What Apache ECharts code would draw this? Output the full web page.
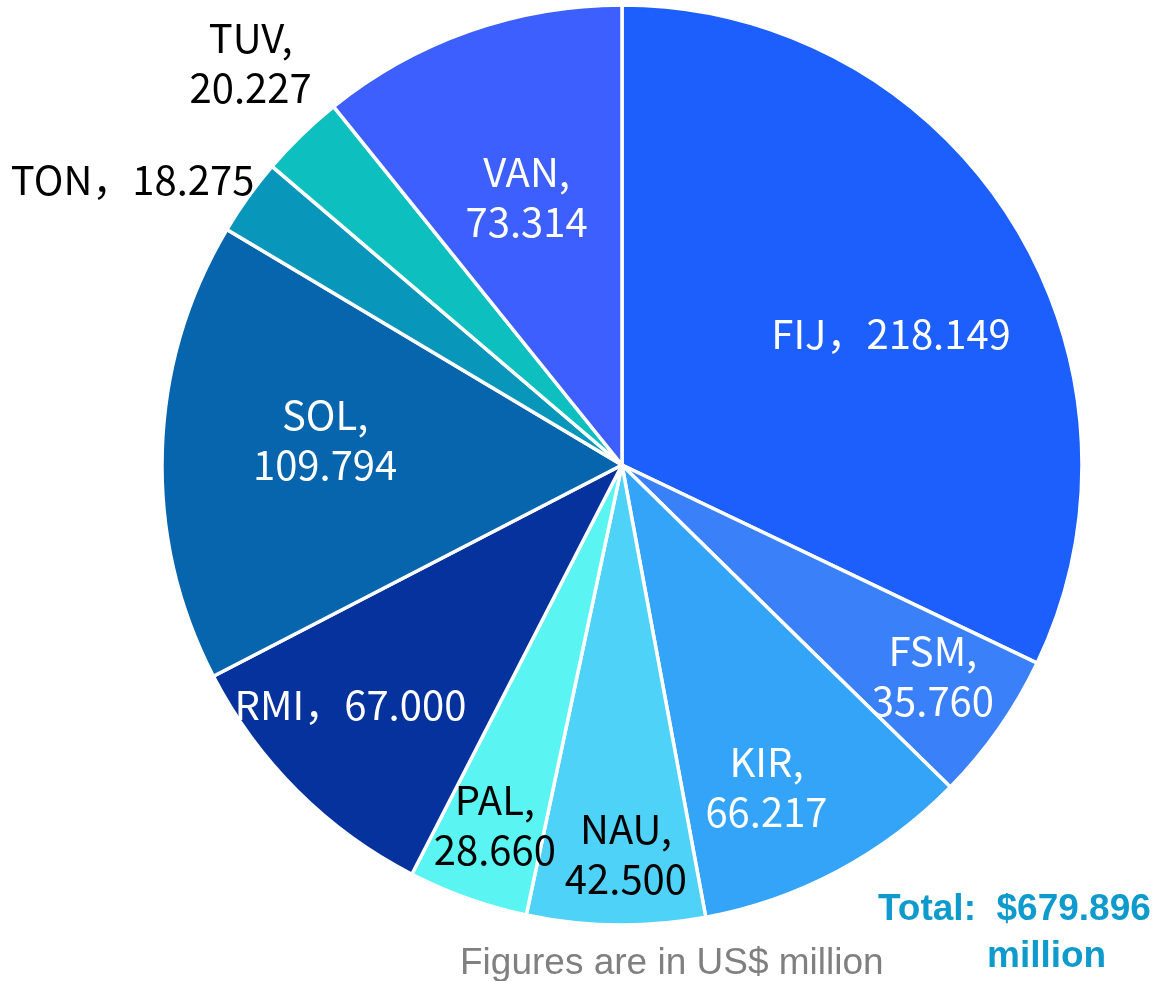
<!DOCTYPE html>
<html>
<head>
<meta charset="utf-8">
<script src="https://cdn.jsdelivr.net/npm/echarts@6/dist/echarts.min.js"></script>
<style>
html,body{margin:0;padding:0;background:#fff;}
#chart{width:1159px;height:981px;}
</style>
</head>
<body>
<div id="chart"></div>
<script>
// Data
const categories = ['FIJ', 'FSM', 'KIR', 'NAU', 'PAL', 'RMI', 'SOL', 'TON', 'TUV', 'VAN'];
const values = [218.149, 35.760, 66.217, 42.500, 28.660, 67.000, 109.794, 18.275, 20.227, 73.314];
const totalText = 'Total:  $679.896';
const totalText2 = 'million';
const noteText = 'Figures are in US$ million';

// Styles
const colors = ['#1C5FFD', '#3A80F9', '#33A4F8', '#4ED2F7', '#5AF5F3', '#06329E', '#0665AC', '#0996BB', '#0DBFBE', '#3D5FFE'];
const labelColors = ['#fff', '#fff', '#fff', '#000', '#000', '#fff', '#fff', '#000', '#000', '#fff'];
const singleLine = [true, false, false, false, false, true, false, true, false, false];
const labelShift = [[72, -7], [120, 77], [35, 116], [7, 156], [-49, 140], [-107, 75], [-64, -18], [-300, -149], [-209, -235], [-18, -48]];

const chart = echarts.init(document.getElementById('chart'), null, {renderer: 'canvas'});
chart.setOption({
  animation: false,
  backgroundColor: '#fff',
  series: [{
    type: 'pie',
    center: [622, 465],
    radius: [0, 460],
    startAngle: 90,
    clockwise: true,
    avoidLabelOverlap: false,
    emphasis: {disabled: true},
    itemStyle: {borderColor: '#fff', borderWidth: 3.5},
    label: {
      show: true,
      position: 'inside',
      fontFamily: '"Noto Sans CJK SC", "Noto Sans", sans-serif',
      fontSize: 40,
      lineHeight: 50,
      align: 'center'
    },
    labelLine: {show: false},
    labelLayout: function (p) {
      const s = labelShift[p.dataIndex];
      return {dx: s[0], dy: s[1]};
    },
    data: categories.map((c, i) => ({
      name: c,
      value: values[i],
      itemStyle: {color: colors[i]},
      label: {
        color: labelColors[i],
        formatter: singleLine[i] ? (c + '，' + values[i].toFixed(3)) : (c + ',\n' + values[i].toFixed(3))
      }
    }))
  }],
  graphic: [
    {type: 'text', left: 878, top: 891, style: {text: totalText, fill: '#0E9ACC', font: 'bold 37px "Liberation Sans", Arial, sans-serif'}},
    {type: 'text', left: 987, top: 938, style: {text: totalText2, fill: '#0E9ACC', font: 'bold 37px "Liberation Sans", Arial, sans-serif'}},
    {type: 'text', left: 460, top: 945, style: {text: noteText, fill: '#808080', font: '37px "Liberation Sans", Arial, sans-serif'}}
  ]
});
</script>
</body>
</html>
